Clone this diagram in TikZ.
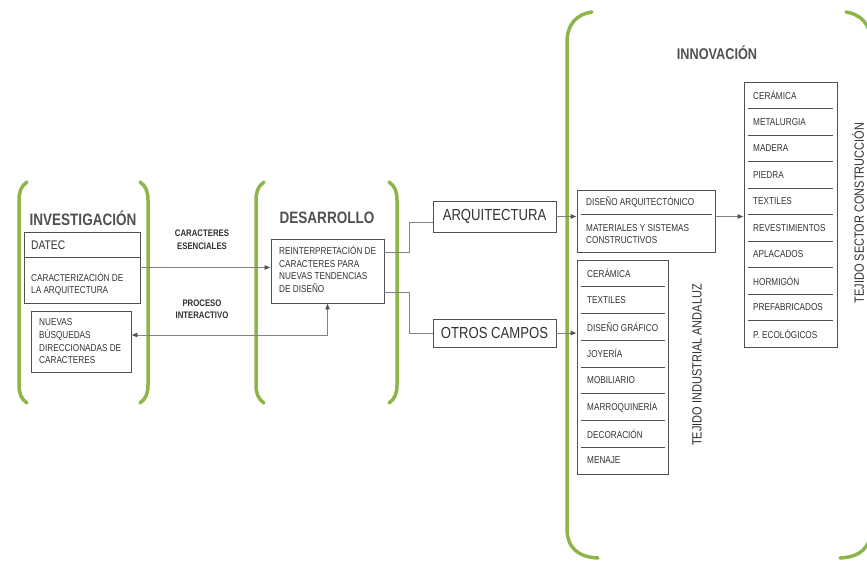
\documentclass[tikz,border=0pt]{standalone}
\usepackage{fontspec}
\setmainfont{Liberation Sans}[FakeStretch=0.82]
\usetikzlibrary{arrows.meta}
\definecolor{grn}{RGB}{142,181,74}
\definecolor{lnc}{RGB}{80,80,80}
\definecolor{txc}{RGB}{50,50,50}
\definecolor{ttc}{RGB}{80,80,80}
\definecolor{cnc}{RGB}{130,130,130}
\begin{document}
\begin{tikzpicture}[x=1pt,y=-1pt,
 box/.style={draw=lnc, line width=0.7pt, inner sep=0pt},
 lbl/.style={text=txc, inner sep=0pt, anchor=west, align=left, font=\fontsize{10}{12.5}\selectfont},
 item/.style={text=txc, inner sep=0pt, anchor=west, font=\fontsize{10}{12}\selectfont},
 ttl/.style={text=ttc, inner sep=0pt, font=\fontsize{16.5}{18}\selectfont\bfseries},
 blbl/.style={text=txc, inner sep=0pt, align=center, font=\fontsize{9.5}{12.5}\selectfont\bfseries},
 vlbl/.style={text=txc, inner sep=0pt, rotate=90, font=\fontsize{13.4}{15}\selectfont},
 brk/.style={draw=grn, line width=3.5pt, line cap=round},
 divl/.style={draw=lnc, line width=0.7pt},
 conn/.style={draw=cnc, line width=0.8pt},
 tip/.tip={Latex[length=6pt,width=5pt,color=lnc]},
 arr/.style={conn, -tip}
]
\useasboundingbox (0,0) rectangle (867,562);

% brackets
\draw[brk] (27,182) .. controls (21,186) and (19,192) .. (19,200) -- (19,385) .. controls (19,393) and (21,399) .. (27,403);
\draw[brk] (140,182) .. controls (146,186) and (148,192) .. (148,200) -- (148,385) .. controls (148,393) and (146,399) .. (140,403);
\draw[brk] (264,182) .. controls (258,186) and (256,192) .. (256,200) -- (256,385) .. controls (256,393) and (258,399) .. (264,403);
\draw[brk] (389,182) .. controls (395,186) and (397,192) .. (397,200) -- (397,385) .. controls (397,393) and (395,399) .. (389,403);
\draw[brk] (592,12) .. controls (577,14) and (567,24) .. (567,42) -- (567,528) .. controls (567,548) and (578,557) .. (598,558);
\draw[brk] (846,12) .. controls (860,14) and (871,24) .. (871,42) -- (871,528) .. controls (871,548) and (860,557) .. (840,558);

% titles
\node[ttl] (inv) at (83,218) {INVESTIGACIÓN};
\node[ttl] (des) at (327,218) {DESARROLLO};
\node[ttl, font=\fontsize{15.5}{18}\selectfont\bfseries] (inn) at (717,53) {INNOVACIÓN};

% investigacion
\node[box, minimum width=116pt, minimum height=71pt] (datec) at (82,267.5) {};
\draw[divl] (24,257) -- (140,257);
\node[item, font=\fontsize{12.5}{14}\selectfont] (datect) at (31,245) {DATEC};
\node[lbl] (caract) at (31,284) {CARACTERIZACIÓN DE\\LA ARQUITECTURA};
\node[box, minimum width=100pt, minimum height=61pt] (nuevas) at (81,341.5) {};
\node[lbl, font=\fontsize{10}{12.7}\selectfont] (nuevast) at (39,341.5) {NUEVAS\\BÚSQUEDAS\\DIRECCIONADAS DE\\CARACTERES};

\node[blbl] (ce) at (202,239.5) {CARACTERES\\ESENCIALES};
\node[blbl] (pi) at (202,309) {PROCESO\\INTERACTIVO};

% desarrollo
\node[box, minimum width=113pt, minimum height=64pt] (reint) at (327.5,271) {};
\node[lbl] (reintt) at (279,269) {REINTERPRETACIÓN DE\\CARACTERES PARA\\NUEVAS TENDENCIAS\\DE DISEÑO};

\node[box, minimum width=123pt, minimum height=31pt, text=txc, font=\fontsize{16}{18}\selectfont] (arq) at (494.5,216.5) {ARQUITECTURA};
\node[box, minimum width=123pt, minimum height=28pt, text=txc, font=\fontsize{16}{18}\selectfont] (otros) at (494.5,333) {OTROS CAMPOS};

% innovacion
\node[box, minimum width=138pt, minimum height=62pt] (dis) at (646,221) {};
\draw[divl] (581,214) -- (712,214);
\node[item] (dist) at (586,202) {DISEÑO ARQUITECTÓNICO};
\node[lbl] (matt) at (586,234) {MATERIALES Y SISTEMAS\\CONSTRUCTIVOS};

\node[box, minimum width=93pt, minimum height=265pt] (sec) at (790.5,214.5) {};
\foreach \t [count=\i] in {CERÁMICA,METALURGIA,MADERA,PIEDRA,TEXTILES,REVESTIMIENTOS,APLACADOS,HORMIGÓN,PREFABRICADOS,P. ECOLÓGICOS}
  \node[item] (s\i) at (753,{82+26.5*\i-13.25}) {\t};
\foreach \i in {1,...,9}
  \draw[divl] (748,{82+26.5*\i}) -- (833,{82+26.5*\i});

\node[box, minimum width=91pt, minimum height=214pt] (anda) at (622.5,367) {};
\foreach \t [count=\i] in {CERÁMICA,TEXTILES,DISEÑO GRÁFICO,JOYERÍA,MOBILIARIO,MARROQUINERÍA,DECORACIÓN,MENAJE}
  \node[item] (a\i) at (587,{260+26.75*\i-13.4}) {\t};
\foreach \i in {1,...,7}
  \draw[divl] (581,{260+26.75*\i}) -- (665,{260+26.75*\i});

\node[vlbl] (tia) at (697,365) {TEJIDO INDUSTRIAL ANDALUZ};
\node[vlbl] (tsc) at (858,213) {TEJIDO SECTOR CONSTRUCCIÓN};

% connectors
\draw[arr] (datec.east) -- (datec.east -| reint.west);
\coordinate (rj) at (327.5,335);
\draw[conn, tip-tip] (nuevas.east |- rj) -| (reint.south);
\coordinate (b1) at (409,252);
\coordinate (b2) at (409,292);
\draw[conn] (reint.east |- b1) -- (b1) |- ([yshift=-5.5pt]arq.west);
\draw[conn] (reint.east |- b2) -- (b2) |- (otros.west);
\draw[arr] (arq.east) -- (arq.east -| dis.west);
\draw[arr] (dis.east |- arq.east) -- (arq.east -| sec.west);
\draw[arr] (otros.east) -- (otros.east -| anda.west);
\end{tikzpicture}
\end{document}
